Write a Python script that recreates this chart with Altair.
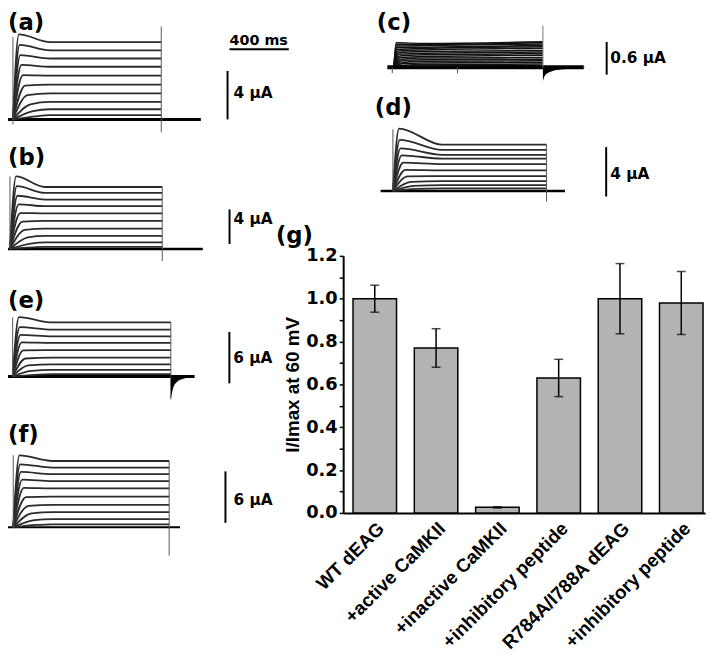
import json
import altair as alt
import pandas as pd

# ------------------------------------------------------------------ data
# (g) bar chart
CONDITIONS = ["WT dEAG", "+active CaMKII", "+inactive CaMKII",
              "+inhibitory peptide", "R784A/I788A dEAG", "+inhibitory peptide"]
MEANS = [1.00, 0.77, 0.026, 0.63, 1.00, 0.98]
ERRS = [0.063, 0.090, 0.003, 0.087, 0.164, 0.147]
Y_TICKS = [0.0, 0.1, 0.2, 0.3, 0.4, 0.5, 0.6, 0.7, 0.8, 0.9, 1.0, 1.1, 1.2]

# current traces (uA): early value at RISE_MS, steady-state value
RISE_MS = [40, 45, 50, 58, 68, 82, 98, 118, 136, 150]
A_STEADY = [6.39, 5.71, 5.03, 4.35, 3.62, 2.88, 2.15, 1.44, 0.84, 0.35]
A_PEAK = [7.02, 6.15, 5.30, 4.50, 3.66, 2.80, 2.00, 1.25, 0.68, 0.25]
B_STEADY = [7.16, 6.48, 5.71, 4.95, 4.11, 3.24, 2.36, 1.52, 0.76, 0.25]
B_PEAK = [8.38, 7.25, 6.15, 5.15, 4.15, 3.15, 2.20, 1.35, 0.62, 0.18]
E_STEADY = [6.31, 5.46, 4.69, 3.92, 3.08, 2.19, 1.42, 0.77, 0.27]
E_PEAK = [6.92, 5.75, 4.85, 3.98, 3.05, 2.10, 1.30, 0.65, 0.20]
F_STEADY = [7.73, 6.96, 6.19, 5.38, 4.54, 3.58, 2.61, 1.77, 0.96, 0.35]
F_PEAK = [8.38, 7.35, 6.45, 5.55, 4.60, 3.52, 2.50, 1.62, 0.82, 0.27]
D_STEADY = [3.76, 3.34, 2.94, 2.62, 2.18, 1.68, 1.22, 0.80, 0.48, 0.22]
D_PEAK = [5.06, 4.15, 3.45, 2.90, 2.30, 1.72, 1.20, 0.74, 0.42, 0.18]
C_STEADY = [0.44, 0.42, 0.40, 0.37, 0.35, 0.32, 0.29, 0.26, 0.23, 0.20, 0.17, 0.14, 0.11, 0.08, 0.05, 0.02]
C_END = [0.47, 0.45, 0.43, 0.40, 0.38, 0.35, 0.31, 0.28, 0.25, 0.22, 0.18, 0.15, 0.12, 0.09, 0.06, 0.03]
C_PEAK = [0.45, 0.42, 0.39, 0.36, 0.33, 0.30, 0.27, 0.24, 0.21, 0.18, 0.15, 0.12, 0.09, 0.07, 0.04, 0.015]
C_RISE = [15, 18, 20, 22, 25, 28, 30, 35, 40, 45, 50, 55, 60, 65, 70, 75]
C_TAIL_T = [1000, 1010, 1030, 1060, 1120, 1200, 1280]
C_TAIL_V = [-0.25, -0.17, -0.11, -0.07, -0.04, -0.02, -0.01]
E_TAIL_T = [1000, 1015, 1040, 1080, 1140]
E_TAIL_V = [-2.6, -1.3, -0.6, -0.25, -0.1]
PULSE_MS = 1000

# ------------------------------------------------------------------ layout
FONT = "Liberation Sans"
WIDE = "DejaVu Sans"
PL, PT, PW, PH = 339, 247, 366, 260     # plot area of (g), page margin 8 px


def px(rx):
    return rx - 8 - PL


def py(ry):
    return ry - 8 - PT


def scales(x0, x1, base, ppu):
    xs = alt.Scale(domain=[0, PULSE_MS], range=[px(x0), px(x1)], nice=False, zero=False)
    ys = alt.Scale(domain=[0, 1], range=[py(base), py(base) - ppu], nice=False, zero=False)
    return xs, ys


def enc_xy(xs, ys):
    return dict(x=alt.X("t:Q", scale=xs, axis=None), y=alt.Y("v:Q", scale=ys, axis=None))


def traces(xs, ys, steady, peak, rise, end, settle, color="#2b2b2b", width=1.8):
    rows = []
    for i, (s, p, r, e) in enumerate(zip(steady, peak, rise, end)):
        for t, v in [(0, 0), (r, p), (settle, s), (PULSE_MS, e)]:
            rows.append({"trace": i, "t": t, "v": v})
    return alt.Chart(pd.DataFrame(rows)).mark_line(
        interpolate="monotone", color=color, strokeWidth=width
    ).encode(detail="trace:N", **enc_xy(xs, ys))


def vrule(xs, ys, t, v1, v2, color="#555555", w=1.0):
    df = pd.DataFrame({"t": [t], "v": [v1], "v2": [v2]})
    return alt.Chart(df).mark_rule(color=color, strokeWidth=w).encode(y2="v2:Q", **enc_xy(xs, ys))


def hrule(xs, ys, t1, t2, v, color="black", w=2.5):
    df = pd.DataFrame({"t": [t1], "t2": [t2], "v": [v]})
    return alt.Chart(df).mark_rule(color=color, strokeWidth=w).encode(x2="t2:Q", **enc_xy(xs, ys))


def tlabel(xs, ys, t, v, text, size=15.5, align="left"):
    df = pd.DataFrame({"t": [t], "v": [v]})
    return alt.Chart(df).mark_text(
        text=text, align=align, baseline="middle", fontSize=size,
        fontWeight="bold", font=WIDE, color="black"
    ).encode(**enc_xy(xs, ys))


def tail(xs, ys, tt, vv, color="black"):
    df = pd.DataFrame({"t": tt, "v": vv, "z": [0] * len(tt)})
    return alt.Chart(df).mark_area(color=color, interpolate="monotone").encode(y2="z:Q", **enc_xy(xs, ys))


def panel_label(text, rx, ry, size=23):
    return alt.Chart(pd.DataFrame({"k": [0]})).mark_text(
        text=text, align="left", baseline="alphabetic", fontSize=size,
        fontWeight="bold", font=WIDE, color="black"
    ).encode(x=alt.value(px(rx)), y=alt.value(py(ry)))


# ---- panel (a)
xs, ys = scales(13, 163, 117, 12.25)
panel_a = alt.layer(
    hrule(xs, ys, -33, 1267, 0, w=3),
    traces(xs, ys, A_STEADY, A_PEAK, RISE_MS, A_STEADY, 250),
    vrule(xs, ys, 0, -0.4, 6.8),
    vrule(xs, ys, PULSE_MS, -1.06, 7.67),
    vrule(xs, ys, 1447, 0, 4, color="black", w=2),
    tlabel(xs, ys, 1487, 2.2, "4 µA"),
    hrule(xs, ys, 1460, 1860, 5.8, w=2),
    tlabel(xs, ys, 1657, 6.5, "400 ms", size=14.5, align="center"),
)

# ---- panel (b)
xs, ys = scales(10, 164, 248, 8.75)
panel_b = alt.layer(
    hrule(xs, ys, -33, 1266, 0, w=2.5),
    traces(xs, ys, B_STEADY, B_PEAK, RISE_MS, B_STEADY, 230),
    vrule(xs, ys, 0, 0, 8.4),
    vrule(xs, ys, PULSE_MS, -1.4, 7.2),
    vrule(xs, ys, 1442, 0.57, 4.57, color="black", w=2),
    tlabel(xs, ys, 1468, 3.43, "4 µA"),
)

# ---- panel (e)
xs, ys = scales(12.7, 172.7, 377, 8.67)
panel_e = alt.layer(
    hrule(xs, ys, -30, 1150, 0, w=3),
    traces(xs, ys, E_STEADY, E_PEAK, RISE_MS, E_STEADY, 250),
    vrule(xs, ys, 0, 0, 6.9),
    vrule(xs, ys, PULSE_MS, -2.65, 6.31),
    tail(xs, ys, E_TAIL_T, E_TAIL_V),
    vrule(xs, ys, 1370, -0.8, 5.2, color="black", w=2),
    tlabel(xs, ys, 1395, 2.19, "6 µA"),
)

# ---- panel (f)
xs, ys = scales(13.3, 171, 529.5, 8.67)
panel_f = alt.layer(
    hrule(xs, ys, -53, 1070, 0, w=2),
    traces(xs, ys, F_STEADY, F_PEAK, RISE_MS, F_STEADY, 250),
    vrule(xs, ys, 0, 0, 8.4),
    vrule(xs, ys, PULSE_MS, -3.3, 7.73),
    vrule(xs, ys, 1361, 0.52, 6.52, color="black", w=2),
    tlabel(xs, ys, 1412, 3.17, "6 µA"),
)

# ---- panel (c)
xs, ys = scales(398.3, 549, 64.3, 55)
panel_c = alt.layer(
    traces(xs, ys, C_STEADY, C_PEAK, C_RISE, C_END, 200, color="#111111", width=1.5),
    hrule(xs, ys, -44, 1274, 0, w=4),
    vrule(xs, ys, PULSE_MS, 0, 0.77, color="#777777"),
    tail(xs, ys, C_TAIL_T, C_TAIL_V),
    vrule(xs, ys, -11, -0.11, 0, color="#555555"),
    vrule(xs, ys, 427, -0.11, 0, color="#555555"),
    vrule(xs, ys, 1428, -0.135, 0.465, color="black", w=2),
    tlabel(xs, ys, 1452, 0.17, "0.6 µA"),
)

# ---- panel (d)
xs, ys = scales(397.3, 552.7, 189.5, 12.5)
panel_d = alt.layer(
    hrule(xs, ys, -80, 1120, 0, w=2.5),
    traces(xs, ys, D_STEADY, D_PEAK, RISE_MS, D_STEADY, 320),
    vrule(xs, ys, 0, 0, 5.0),
    vrule(xs, ys, PULSE_MS, -0.84, 3.76),
    vrule(xs, ys, 1388, -0.44, 3.56, color="black", w=2),
    tlabel(xs, ys, 1414, 1.4, "4 µA"),
)

# ---- panel (g): bar chart
bars_df = pd.DataFrame({
    "k": [str(i) for i in range(len(CONDITIONS))],
    "m": MEANS,
    "lo": [m - e for m, e in zip(MEANS, ERRS)],
    "hi": [m + e for m, e in zip(MEANS, ERRS)],
})
label_expr = json.dumps(CONDITIONS) + "[toNumber(datum.value)]"
x_axis = alt.Axis(
    orient="bottom", title=None, labelExpr=label_expr, labelAngle=-45,
    labelFontSize=19, labelFont=FONT, labelFontWeight="bold", labelColor="black",
    ticks=False, domainColor="black", domainWidth=2, labelPadding=6, labelOverlap=False,
)
y_axis = alt.Axis(
    orient="left", title="I/Imax at 60 mV", values=Y_TICKS,
    labelExpr="round(datum.value*10) % 2 == 0 ? format(datum.value, '.1f') : ''",
    tickSize=4, tickColor="black", tickWidth=1.5, domainColor="black", domainWidth=2,
    labelFontSize=18, labelFontWeight="bold", labelFont=WIDE, labelColor="black",
    titleFontSize=19, titleFontWeight="bold", titleFont=FONT, titleColor="black",
    titlePadding=3, labelPadding=2, grid=False, labelOverlap=False,
)
x_enc = alt.X("k:N", scale=alt.Scale(paddingInner=0.2903, paddingOuter=0.0968, align=0.83), axis=x_axis)
y_scale = alt.Scale(domain=[0, 1.2], nice=False, zero=True)
bar_base = alt.Chart(bars_df)
bars = bar_base.mark_bar(color="#b3b3b3", stroke="black", strokeWidth=1.5).encode(
    x=x_enc, y=alt.Y("m:Q", scale=y_scale, axis=y_axis))
err = bar_base.mark_rule(color="black", strokeWidth=1.5).encode(
    x=x_enc, y=alt.Y("lo:Q", scale=y_scale, axis=y_axis), y2="hi:Q")
cap_hi = bar_base.mark_tick(color="black", thickness=1.5, size=9).encode(
    x=x_enc, y=alt.Y("hi:Q", scale=y_scale, axis=y_axis))
cap_lo = bar_base.mark_tick(color="black", thickness=1.5, size=9).encode(
    x=x_enc, y=alt.Y("lo:Q", scale=y_scale, axis=y_axis))
panel_g = alt.layer(bars, err, cap_hi, cap_lo)

chart = alt.layer(
    panel_g, panel_a, panel_b, panel_e, panel_f, panel_c, panel_d,
    panel_label("(a)", 8, 27), panel_label("(b)", 8, 163), panel_label("(e)", 8, 308),
    panel_label("(f)", 8, 443), panel_label("(c)", 381, 27), panel_label("(d)", 379, 113),
    panel_label("(g)", 279, 242),
).resolve_scale(x="independent", y="independent").properties(
    width=PW, height=PH,
    padding={"left": PL, "top": PT, "right": 709 - PL - PW, "bottom": 648 - PT - PH},
    autosize=alt.AutoSizeParams(type="none"),
    background="white",
).configure_view(stroke=None)

chart.save("out.html", embed_options={"renderer": "svg", "actions": False})
